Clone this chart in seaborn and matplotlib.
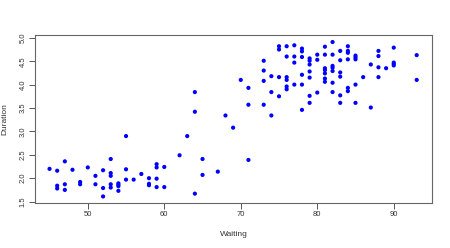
import matplotlib
matplotlib.use("Agg")
import matplotlib.pyplot as plt
import seaborn as sns
import pandas as pd

waiting = [45, 46, 46, 46, 47, 47, 47, 48, 49, 49, 50, 51, 51, 52, 52, 52,
           53, 53, 53, 53, 53, 54, 54, 54, 54, 55, 55, 55, 56, 57, 58, 58, 58,
           59, 59, 59, 59, 60, 60, 62, 63, 64, 64, 64, 65, 65, 67, 68, 69, 70,
           71, 71, 71, 73, 73, 73, 73, 74, 74, 74, 75, 75, 75, 75,
           76, 76, 76, 76, 76, 76, 77, 77, 77, 77,
           78, 78, 78, 78, 78, 78, 79, 79, 79, 79, 79, 79, 79,
           80, 80, 80, 81, 81, 81, 81, 81, 81, 81,
           82, 82, 82, 82, 82, 82, 82, 83, 83, 83, 83, 83, 83,
           84, 84, 84, 84, 84, 84, 85, 85, 85, 85, 85, 86, 87, 87,
           88, 88, 88, 88, 89, 90, 90, 90, 90, 93, 93]
duration = [2.20, 2.16, 1.84, 1.78, 2.36, 1.87, 1.75, 2.18, 1.92, 1.87, 2.23, 2.05, 1.87, 2.17, 1.79, 1.61,
            2.41, 2.11, 2.05, 1.87, 1.80, 1.89, 1.86, 1.83, 1.73, 2.90, 2.19, 1.97, 1.97, 2.09, 2.00, 1.88, 1.85,
            2.30, 2.23, 1.99, 1.81, 2.24, 1.81, 2.49, 2.90, 3.84, 3.42, 1.67, 2.41, 2.07, 2.14, 3.34, 3.08, 4.10,
            3.93, 3.57, 2.39, 4.51, 4.30, 4.08, 3.57, 4.18, 3.84, 3.34, 4.82, 4.75, 4.16, 3.75,
            4.82, 4.60, 4.16, 4.10, 3.96, 3.90, 4.84, 4.60, 4.47, 4.00,
            4.77, 4.71, 4.59, 4.21, 4.00, 3.46, 4.56, 4.51, 4.43, 4.28, 4.15, 3.76, 3.61,
            4.64, 4.53, 3.83, 4.81, 4.64, 4.35, 4.31, 4.24, 4.13, 4.06,
            4.91, 4.64, 4.40, 4.36, 4.29, 4.04, 3.84, 4.72, 4.52, 4.26, 4.17, 3.77, 3.61,
            4.82, 4.72, 4.68, 4.54, 3.93, 3.86, 4.62, 4.58, 4.54, 4.00, 3.61, 4.16, 4.43, 3.51,
            4.72, 4.61, 4.37, 4.16, 4.35, 4.79, 4.47, 4.44, 4.41, 4.63, 4.10]

x_ticks = [50, 60, 70, 80, 90]
y_ticks = [1.5, 2.0, 2.5, 3.0, 3.5, 4.0, 4.5, 5.0]

df = pd.DataFrame({"Waiting": waiting, "Duration": duration})

sns.set_style("white")
plt.rcParams["font.family"] = ["Liberation Sans", "DejaVu Sans"]

fig = plt.figure(figsize=(4.5, 2.48), dpi=100)
ax = fig.add_axes([35/450, 1-203/248, (432-35)/450, (203-35)/248])
sns.scatterplot(data=df, x="Waiting", y="Duration", ax=ax, color="#0000ff",
                s=9, edgecolor="none", linewidth=0)
ax.set_xlim(43.1, 95.0)
ax.set_ylim(1.47, 5.06)
ax.set_xticks(x_ticks)
ax.set_xticklabels([str(t) for t in x_ticks])
ax.set_yticks(y_ticks)
ax.set_yticklabels([f"{t:.1f}" for t in y_ticks], rotation=90, va="center")
ax.tick_params(axis="both", direction="out", length=4, width=0.7, color="#555555",
               labelsize=5.5, labelcolor="#333333", pad=2, bottom=True, left=True)
for sp in ax.spines.values():
    sp.set_color("#666666")
    sp.set_linewidth(0.8)
ax.set_xlabel("Waiting", fontsize=6, color="#333333", labelpad=9)
ax.set_ylabel("Duration", fontsize=6, color="#333333", labelpad=8)
fig.savefig("out.png", dpi=100)
